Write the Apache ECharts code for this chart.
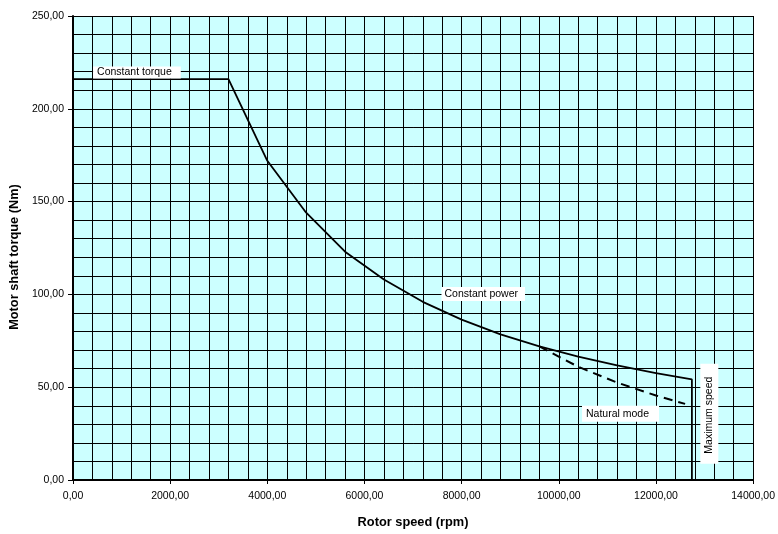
<!DOCTYPE html>
<html>
<head>
<meta charset="utf-8">
<title>Motor shaft torque vs rotor speed</title>
<script src="https://cdn.jsdelivr.net/npm/echarts@6/dist/echarts.min.js"></script>
<style>
  html, body { margin: 0; padding: 0; background: #fff; }
  #chart { width: 778px; height: 534px; }
</style>
</head>
<body>
<div id="chart"></div>
<script>
// Rotor speed (rpm) and motor shaft torque (Nm) for the operating envelope
const envelopeSpeed  = [0, 3200, 4000, 4800, 5600, 6400, 7200, 8000, 8800, 9600, 10400, 11200, 12000, 12740, 12740];
const envelopeTorque = [216, 216, 172, 144, 123, 108, 96, 86.4, 78.5, 72, 66.5, 61.7, 57.6, 54.2, 0];

// Natural (uncompensated) mode in the field-weakening region
const naturalSpeed  = [9600, 10400, 11200, 12000, 12600];
const naturalTorque = [72, 61, 52.5, 45.5, 41];

// Axis ranges and tick spacing
const xTicks = { min: 0, max: 14000, step: 2000, minorSplits: 5 };
const yTicks = { min: 0, max: 250, step: 50, minorSplits: 5 };

// Annotations: label text and anchor (rpm, Nm)
const noteTexts  = ['Constant torque', 'Constant power', 'Natural mode', 'Maximum speed'];
const noteSpeed  = [1316, 8445, 11271, 13099];
const noteTorque = [219.6, 100.2, 35.75, 35.75];

const FONT = '"Liberation Sans", Arial, sans-serif';
const fmt = v => v.toFixed(2).replace('.', ',');

const pair = (xs, ys) => xs.map((x, i) => [x, ys[i]]);

const notePadding = [
  [0, 9, 0, 4],
  [1, 7, 1, 3],
  [2, 10, 2, 4],
  [3, 13, 3, 10]
];

const notes = noteTexts.map((t, i) => ({
  coord: [noteSpeed[i], noteTorque[i]],
  symbolSize: 0,
  itemStyle: { color: 'rgba(0,0,0,0)' },
  label: {
    show: true,
    position: 'inside',
    formatter: t,
    rotate: i === 3 ? 90 : 0,
    color: '#000',
    fontFamily: FONT,
    fontSize: 10.5,
    lineHeight: 12,
    backgroundColor: '#fff',
    padding: notePadding[i]
  }
}));

const chart = echarts.init(document.getElementById('chart'), null, { renderer: 'canvas' });

const gridLine = { show: true, lineStyle: { color: '#000', width: 1 } };

chart.setOption({
  animation: false,
  backgroundColor: '#fff',
  grid: {
    left: 71, right: 23, top: 16, bottom: 53,
    show: true, backgroundColor: '#CCFFFF', borderWidth: 0
  },
  xAxis: {
    type: 'value',
    min: xTicks.min, max: xTicks.max, interval: xTicks.step,
    name: 'Rotor speed (rpm)',
    nameLocation: 'middle',
    nameGap: 36,
    nameTextStyle: { fontFamily: FONT, fontSize: 12.8, fontWeight: 'bold', color: '#000' },
    axisLine: { show: true, onZero: false, lineStyle: { color: '#000', width: 2 } },
    axisTick: { show: true, length: 4, lineStyle: { color: '#000', width: 1 } },
    axisLabel: { margin: 11, fontFamily: FONT, fontSize: 10.5, color: '#000', formatter: fmt },
    splitLine: gridLine,
    minorTick: { show: false, splitNumber: xTicks.minorSplits },
    minorSplitLine: gridLine
  },
  yAxis: {
    type: 'value',
    min: yTicks.min, max: yTicks.max, interval: yTicks.step,
    name: 'Motor shaft torque (Nm)',
    nameLocation: 'middle',
    nameGap: 49,
    nameTextStyle: { fontFamily: FONT, fontSize: 12.8, fontWeight: 'bold', color: '#000', padding: [0, 18, 0, 0] },
    axisLine: { show: true, onZero: false, lineStyle: { color: '#000', width: 2 } },
    axisTick: { show: true, length: 5, lineStyle: { color: '#000', width: 1 } },
    axisLabel: { margin: 9, fontFamily: FONT, fontSize: 10.5, color: '#000', formatter: fmt },
    splitLine: gridLine,
    minorTick: { show: false, splitNumber: yTicks.minorSplits },
    minorSplitLine: gridLine
  },
  series: [
    {
      name: 'Envelope',
      type: 'line',
      data: pair(envelopeSpeed, envelopeTorque),
      symbol: 'none',
      lineStyle: { color: '#000', width: 1.8 },
      z: 3,
      markPoint: {
        symbol: 'rect',
        symbolSize: 0,
        silent: true,
        data: notes,
        z: 5
      }
    },
    {
      name: 'Natural mode',
      type: 'line',
      data: pair(naturalSpeed, naturalTorque),
      symbol: 'none',
      lineStyle: { color: '#000', width: 2, type: [9, 6] },
      z: 3
    }
  ]
});
</script>
</body>
</html>
